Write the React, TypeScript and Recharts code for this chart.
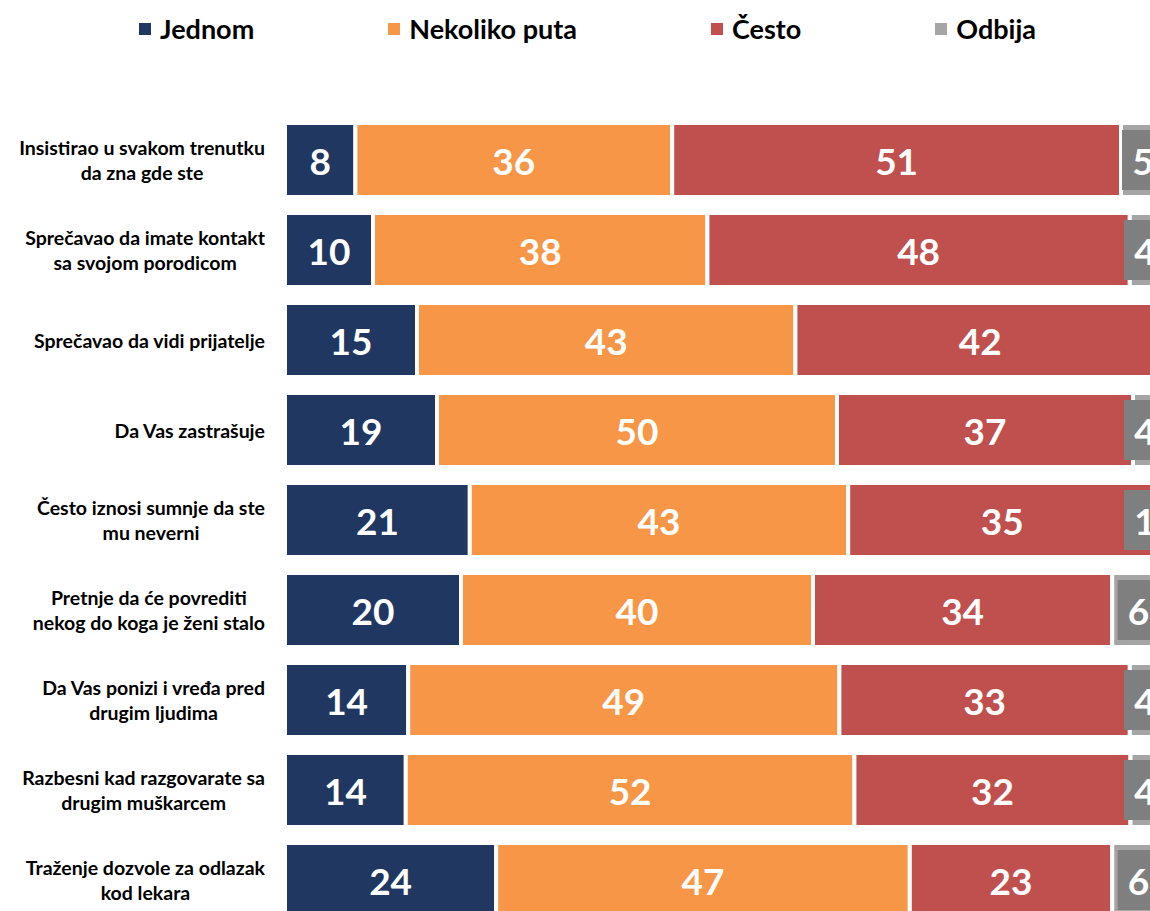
import { Bar, BarChart, LabelList, XAxis, YAxis } from 'recharts'

const categories = [
  'Insistirao u svakom trenutku\nda zna gde ste',
  'Sprečavao da imate kontakt\nsa svojom porodicom',
  'Sprečavao da vidi prijatelje',
  'Da Vas zastrašuje',
  'Često iznosi sumnje da ste\nmu neverni',
  'Pretnje da će povrediti\nnekog do koga je ženi stalo',
  'Da Vas ponizi i vređa pred\ndrugim ljudima',
  'Razbesni kad razgovarate sa\ndrugim muškarcem',
  'Traženje dozvole za odlazak\nkod lekara',
]

const jednom = [8, 10, 15, 19, 21, 20, 14, 14, 24]
const nekoliko = [36, 38, 43, 50, 43, 40, 49, 52, 47]
const cesto = [51, 48, 42, 37, 35, 34, 33, 32, 23]
const odbija = [5, 4, 0, 4, 1, 6, 4, 4, 6]

const series = [
  { key: 'jednom', name: 'Jednom', color: '#1f3761' },
  { key: 'nekoliko', name: 'Nekoliko puta', color: '#f79646' },
  { key: 'cesto', name: 'Često', color: '#c0504d' },
  { key: 'odbija', name: 'Odbija', color: '#a5a5a5' },
]

const data = categories.map((name, i) => ({
  name,
  jednom: jednom[i],
  nekoliko: nekoliko[i],
  cesto: cesto[i],
  odbija: odbija[i],
}))

const FONT = 'Lato, "Open Sans", sans-serif'

function CategoryTick(props: any) {
  const { y, payload } = props
  const lines = String(payload.value).split('\n')
  return (
    <foreignObject x={0} y={y - 35} width={265} height={70}>
      <div
        style={{
          width: 265,
          height: 70,
          display: 'flex',
          alignItems: 'center',
          justifyContent: 'flex-end',
        }}
      >
        <div
          style={{
            textAlign: 'center',
            fontFamily: FONT,
            fontWeight: 700,
            fontSize: 19.5,
            lineHeight: '25px',
            color: '#000',
            whiteSpace: 'nowrap',
          }}
        >
          {lines.map((l, i) => (
            <div key={i}>{l}</div>
          ))}
        </div>
      </div>
    </foreignObject>
  )
}

function ValueLabel(props: any) {
  const box = props.viewBox ?? {}
  const x = props.x ?? box.x
  const y = props.y ?? box.y
  const width = props.width ?? box.width
  const height = props.height ?? box.height
  const { value, boxed } = props
  if (!value) return null
  let cx = x + width / 2
  const cy = y + height / 2
  // boxed labels on the last segment stay inside the plot, like excel does
  if (boxed) cx = Math.min(cx, x + width - 20)
  return (
    <g>
      {boxed && <rect x={cx - 21} y={cy - 30} width={42} height={60} fill="#7f7f7f" />}
      <text
        x={cx}
        y={cy}
        textAnchor="middle"
        dominantBaseline="central"
        fill="#fff"
        fontFamily={FONT}
        fontWeight={700}
        fontSize={37}
      >
        {value}
      </text>
    </g>
  )
}

function Legend() {
  return (
    <div
      style={{
        position: 'absolute',
        left: 139,
        top: 12,
        display: 'flex',
        gap: 134,
        fontFamily: FONT,
        fontWeight: 700,
        fontSize: 27,
        color: '#000',
      }}
    >
      {series.map((s) => (
        <div key={s.key} style={{ display: 'flex', alignItems: 'center', gap: 9 }}>
          <span style={{ width: 12, height: 12, background: s.color, display: 'inline-block' }} />
          <span>{s.name}</span>
        </div>
      ))}
    </div>
  )
}

export default function App() {
  return (
    <div
      style={{
        position: 'absolute',
        left: 0,
        top: 0,
        width: 1150,
        height: 911,
        overflow: 'hidden',
        background: '#fff',
      }}
    >
      <Legend />
      <BarChart
        width={1180}
        height={930}
        data={data}
        layout="vertical"
        stackOffset="expand"
        margin={{ top: 115, right: 15, bottom: 5, left: 0 }}
        barSize={74}
      >
        <XAxis type="number" hide domain={[0, 1]} />
        <YAxis
          type="category"
          dataKey="name"
          width={285}
          axisLine={false}
          tickLine={false}
          tick={<CategoryTick />}
          interval={0}
        />
        {series.map((s) => (
          <Bar
            key={s.key}
            dataKey={s.key}
            name={s.name}
            stackId="a"
            fill={s.color}
            stroke="#fff"
            strokeWidth={4}
            isAnimationActive={false}
          >
            <LabelList
              dataKey={s.key}
              content={<ValueLabel boxed={s.key === 'odbija'} />}
            />
          </Bar>
        ))}
      </BarChart>
    </div>
  )
}
